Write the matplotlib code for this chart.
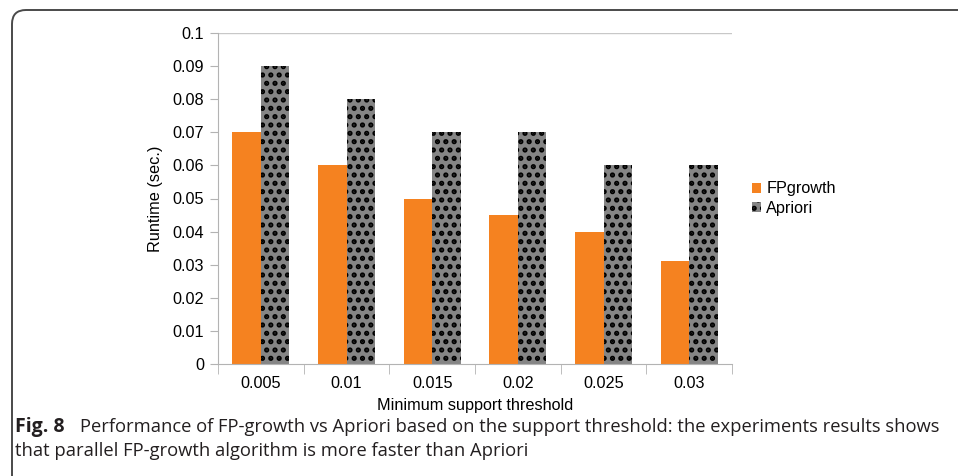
import matplotlib.pyplot as plt
import numpy as np
from matplotlib.patches import FancyBboxPatch
from matplotlib.transforms import IdentityTransform

# support thresholds and runtimes (sec.)
thresholds = ['0.005', '0.01', '0.015', '0.02', '0.025', '0.03']
fpgrowth = [0.07, 0.06, 0.05, 0.045, 0.04, 0.031]
apriori = [0.09, 0.08, 0.07, 0.07, 0.06, 0.06]

plt.rcParams['font.family'] = ['Liberation Sans', 'DejaVu Sans']
plt.rcParams['hatch.linewidth'] = 2.5
plt.rcParams['hatch.color'] = 'black'

fs = 11.7
fig = plt.figure(figsize=(9.58, 4.76), dpi=100)
ax = fig.add_axes([218/958, 112/476, 514/958, 331/476])

x = np.arange(len(thresholds))
w = 1/3
ax.bar(x - w/2, fpgrowth, width=w, color='#f58220', label='FPgrowth')
ax.bar(x + w/2, apriori, width=w, color='#858585', hatch='..',
       edgecolor='black', linewidth=0, label='Apriori')

ax.set_xlim(-0.5, len(thresholds) - 0.5)
ax.set_ylim(0, 0.1)
ax.set_yticks(np.arange(0, 0.1001, 0.01))
ax.set_yticklabels(['0', '0.01', '0.02', '0.03', '0.04', '0.05',
                    '0.06', '0.07', '0.08', '0.09', '0.1'])
ax.set_xticks(x)
ax.set_xticklabels(thresholds)
ax.set_xticks(np.arange(-0.5, len(thresholds)), minor=True)
ax.tick_params(axis='x', which='major', length=0, pad=9, labelsize=fs)
ax.tick_params(axis='x', which='minor', length=7, color='#b3b3b3')
ax.tick_params(axis='y', length=6, color='#b3b3b3', labelsize=fs, pad=4)
ax.axhline(0.1, color='#c8c8c8', linewidth=1)

for side in ['top', 'right']:
    ax.spines[side].set_visible(False)
for side in ['left', 'bottom']:
    ax.spines[side].set_color('#b3b3b3')

ax.set_xlabel('Minimum support threshold', fontsize=fs, labelpad=5)
ax.set_ylabel('Runtime (sec.)', fontsize=fs, labelpad=7)

ax.legend(loc='center left', bbox_to_anchor=(1.01, 0.5), frameon=False,
          fontsize=fs, handlelength=0.55, handleheight=0.55,
          handletextpad=0.35, labelspacing=0.25)

# rounded frame around figure + caption
frame = FancyBboxPatch((12, -60), 1000, 466 + 60,
                       boxstyle='round,pad=0,rounding_size=14',
                       transform=IdentityTransform(), fill=False,
                       edgecolor='#4a4a4a', linewidth=1.4)
fig.add_artist(frame)

cap_font = ['Open Sans', 'DejaVu Sans']
cap_fs = 13.2
fig.text(15/958, 1 - 427/476, 'Fig. 8', fontsize=cap_fs + 0.8,
         fontweight='bold', family=cap_font, va='center', color='#231f20')
fig.text(80/958, 1 - 427/476,
         'Performance of FP-growth vs Apriori based on the support threshold: '
         'the experiments results shows',
         fontsize=cap_fs, family=cap_font, va='center', color='#231f20')
fig.text(15/958, 1 - 451/476,
         'that parallel FP-growth algorithm is more faster than Apriori',
         fontsize=cap_fs, family=cap_font, va='center', color='#231f20')

fig.savefig('out.png', dpi=100)
